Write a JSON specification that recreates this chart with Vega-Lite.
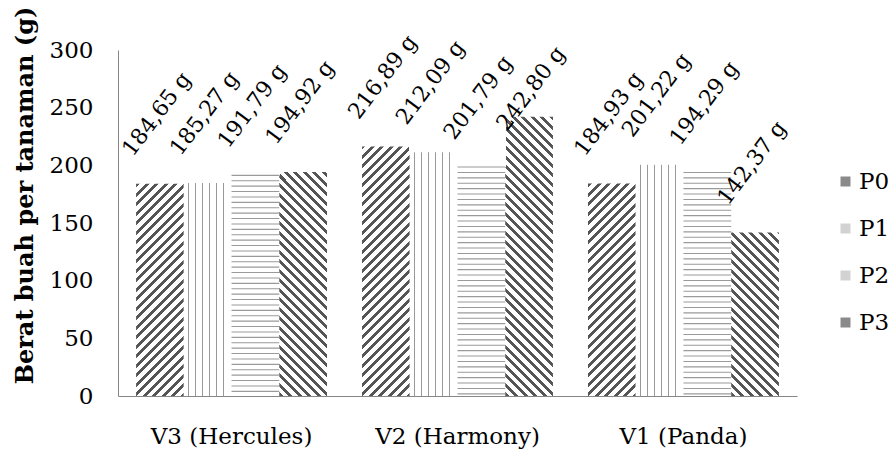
{
  "$schema": "https://vega.github.io/schema/vega-lite/v6.json",
  "width": 679,
  "height": 346,
  "autosize": {"type": "none"},
  "padding": {"left": 118, "top": 50, "right": 96, "bottom": 59},
  "background": "white",
  "data": {"values": [
    {"varietas": "V3  (Hercules)", "perlakuan": "P0", "berat": 184.65, "label": "184,65 g"},
    {"varietas": "V3  (Hercules)", "perlakuan": "P1", "berat": 185.27, "label": "185,27 g"},
    {"varietas": "V3  (Hercules)", "perlakuan": "P2", "berat": 191.79, "label": "191,79 g"},
    {"varietas": "V3  (Hercules)", "perlakuan": "P3", "berat": 194.92, "label": "194,92 g"},
    {"varietas": "V2 (Harmony)", "perlakuan": "P0", "berat": 216.89, "label": "216,89 g"},
    {"varietas": "V2 (Harmony)", "perlakuan": "P1", "berat": 212.09, "label": "212,09 g"},
    {"varietas": "V2 (Harmony)", "perlakuan": "P2", "berat": 199.0, "label": "201,79 g"},
    {"varietas": "V2 (Harmony)", "perlakuan": "P3", "berat": 242.8, "label": "242,80 g"},
    {"varietas": "V1 (Panda)", "perlakuan": "P0", "berat": 184.93, "label": "184,93 g"},
    {"varietas": "V1 (Panda)", "perlakuan": "P1", "berat": 201.22, "label": "201,22 g"},
    {"varietas": "V1 (Panda)", "perlakuan": "P2", "berat": 194.29, "label": "194,29 g"},
    {"varietas": "V1 (Panda)", "perlakuan": "P3", "berat": 142.37, "label": "142,37 g"}
  ]},
  "encoding": {
    "x": {
      "field": "varietas", "type": "nominal",
      "sort": ["V3  (Hercules)", "V2 (Harmony)", "V1 (Panda)"],
      "scale": {"paddingInner": 0.155, "paddingOuter": 0.08},
      "axis": {"title": null, "labelAngle": 0, "ticks": false, "domainColor": "#868686", "domainWidth": 1, "labelFontSize": 23, "labelPadding": 29, "labelColor": "#000", "labelFont": "DejaVu Serif", "labelLimit": 0}
    },
    "xOffset": {"field": "perlakuan", "type": "nominal", "sort": ["P0", "P1", "P2", "P3"], "scale": {"paddingInner": 0, "paddingOuter": 0}}
  },
  "layer": [
    {
      "mark": {"type": "bar", "strokeWidth": 0},
      "encoding": {
        "y": {
          "datum": 250, "type": "quantitative",
          "scale": {"domain": [0, 300], "nice": false},
          "axis": {
            "values": [0, 50, 100, 150, 200, 250, 300], "grid": false, "ticks": false,
            "domainColor": "#868686", "domainWidth": 1,
            "labelFontSize": 23, "labelColor": "#000", "labelPadding": 25, "labelFont": "DejaVu Serif",
            "title": "Berat buah per tanaman (g)", "titleFont": "DejaVu Serif", "titleFontSize": 24, "titleFontWeight": "bold", "titleColor": "#000",
            "titleX": -93, "titleY": 145, "titleAngle": 270, "titleAlign": "center", "titleBaseline": "middle", "titleLimit": 0
          }
        },
        "fill": {
          "condition": [
            {"test": "datum.perlakuan === 'P0'", "value": {"gradient": "linear", "x1": 0, "y1": 0, "x2": 0.2125, "y2": 1.283, "stops": [
              {"offset":0,"color":"#555"},{"offset":0.011,"color":"#555"},{"offset":0.011,"color":"#fff"},{"offset":0.025,"color":"#fff"},
              {"offset":0.025,"color":"#555"},{"offset":0.036,"color":"#555"},{"offset":0.036,"color":"#fff"},{"offset":0.05,"color":"#fff"},
              {"offset":0.05,"color":"#555"},{"offset":0.061,"color":"#555"},{"offset":0.061,"color":"#fff"},{"offset":0.075,"color":"#fff"},
              {"offset":0.075,"color":"#555"},{"offset":0.086,"color":"#555"},{"offset":0.086,"color":"#fff"},{"offset":0.1,"color":"#fff"},
              {"offset":0.1,"color":"#555"},{"offset":0.111,"color":"#555"},{"offset":0.111,"color":"#fff"},{"offset":0.125,"color":"#fff"},
              {"offset":0.125,"color":"#555"},{"offset":0.136,"color":"#555"},{"offset":0.136,"color":"#fff"},{"offset":0.15,"color":"#fff"},
              {"offset":0.15,"color":"#555"},{"offset":0.161,"color":"#555"},{"offset":0.161,"color":"#fff"},{"offset":0.175,"color":"#fff"},
              {"offset":0.175,"color":"#555"},{"offset":0.186,"color":"#555"},{"offset":0.186,"color":"#fff"},{"offset":0.2,"color":"#fff"},
              {"offset":0.2,"color":"#555"},{"offset":0.211,"color":"#555"},{"offset":0.211,"color":"#fff"},{"offset":0.225,"color":"#fff"},
              {"offset":0.225,"color":"#555"},{"offset":0.236,"color":"#555"},{"offset":0.236,"color":"#fff"},{"offset":0.25,"color":"#fff"},
              {"offset":0.25,"color":"#555"},{"offset":0.261,"color":"#555"},{"offset":0.261,"color":"#fff"},{"offset":0.275,"color":"#fff"},
              {"offset":0.275,"color":"#555"},{"offset":0.286,"color":"#555"},{"offset":0.286,"color":"#fff"},{"offset":0.3,"color":"#fff"},
              {"offset":0.3,"color":"#555"},{"offset":0.311,"color":"#555"},{"offset":0.311,"color":"#fff"},{"offset":0.325,"color":"#fff"},
              {"offset":0.325,"color":"#555"},{"offset":0.336,"color":"#555"},{"offset":0.336,"color":"#fff"},{"offset":0.35,"color":"#fff"},
              {"offset":0.35,"color":"#555"},{"offset":0.361,"color":"#555"},{"offset":0.361,"color":"#fff"},{"offset":0.375,"color":"#fff"},
              {"offset":0.375,"color":"#555"},{"offset":0.386,"color":"#555"},{"offset":0.386,"color":"#fff"},{"offset":0.4,"color":"#fff"},
              {"offset":0.4,"color":"#555"},{"offset":0.411,"color":"#555"},{"offset":0.411,"color":"#fff"},{"offset":0.425,"color":"#fff"},
              {"offset":0.425,"color":"#555"},{"offset":0.436,"color":"#555"},{"offset":0.436,"color":"#fff"},{"offset":0.45,"color":"#fff"},
              {"offset":0.45,"color":"#555"},{"offset":0.461,"color":"#555"},{"offset":0.461,"color":"#fff"},{"offset":0.475,"color":"#fff"},
              {"offset":0.475,"color":"#555"},{"offset":0.486,"color":"#555"},{"offset":0.486,"color":"#fff"},{"offset":0.5,"color":"#fff"},
              {"offset":0.5,"color":"#555"},{"offset":0.511,"color":"#555"},{"offset":0.511,"color":"#fff"},{"offset":0.525,"color":"#fff"},
              {"offset":0.525,"color":"#555"},{"offset":0.536,"color":"#555"},{"offset":0.536,"color":"#fff"},{"offset":0.55,"color":"#fff"},
              {"offset":0.55,"color":"#555"},{"offset":0.561,"color":"#555"},{"offset":0.561,"color":"#fff"},{"offset":0.575,"color":"#fff"},
              {"offset":0.575,"color":"#555"},{"offset":0.586,"color":"#555"},{"offset":0.586,"color":"#fff"},{"offset":0.6,"color":"#fff"},
              {"offset":0.6,"color":"#555"},{"offset":0.611,"color":"#555"},{"offset":0.611,"color":"#fff"},{"offset":0.625,"color":"#fff"},
              {"offset":0.625,"color":"#555"},{"offset":0.636,"color":"#555"},{"offset":0.636,"color":"#fff"},{"offset":0.65,"color":"#fff"},
              {"offset":0.65,"color":"#555"},{"offset":0.661,"color":"#555"},{"offset":0.661,"color":"#fff"},{"offset":0.675,"color":"#fff"},
              {"offset":0.675,"color":"#555"},{"offset":0.686,"color":"#555"},{"offset":0.686,"color":"#fff"},{"offset":0.7,"color":"#fff"},
              {"offset":0.7,"color":"#555"},{"offset":0.711,"color":"#555"},{"offset":0.711,"color":"#fff"},{"offset":0.725,"color":"#fff"},
              {"offset":0.725,"color":"#555"},{"offset":0.736,"color":"#555"},{"offset":0.736,"color":"#fff"},{"offset":0.75,"color":"#fff"},
              {"offset":0.75,"color":"#555"},{"offset":0.761,"color":"#555"},{"offset":0.761,"color":"#fff"},{"offset":0.775,"color":"#fff"},
              {"offset":0.775,"color":"#555"},{"offset":0.786,"color":"#555"},{"offset":0.786,"color":"#fff"},{"offset":0.8,"color":"#fff"},
              {"offset":0.8,"color":"#555"},{"offset":0.811,"color":"#555"},{"offset":0.811,"color":"#fff"},{"offset":0.825,"color":"#fff"},
              {"offset":0.825,"color":"#555"},{"offset":0.836,"color":"#555"},{"offset":0.836,"color":"#fff"},{"offset":0.85,"color":"#fff"},
              {"offset":0.85,"color":"#555"},{"offset":0.861,"color":"#555"},{"offset":0.861,"color":"#fff"},{"offset":0.875,"color":"#fff"},
              {"offset":0.875,"color":"#555"},{"offset":0.886,"color":"#555"},{"offset":0.886,"color":"#fff"},{"offset":0.9,"color":"#fff"}
            ]}},
            {"test": "datum.perlakuan === 'P3'", "value": {"gradient": "linear", "x1": 0, "y1": 1, "x2": 0.2125, "y2": -0.283, "stops": [
              {"offset":0,"color":"#555"},{"offset":0.011,"color":"#555"},{"offset":0.011,"color":"#fff"},{"offset":0.025,"color":"#fff"},
              {"offset":0.025,"color":"#555"},{"offset":0.036,"color":"#555"},{"offset":0.036,"color":"#fff"},{"offset":0.05,"color":"#fff"},
              {"offset":0.05,"color":"#555"},{"offset":0.061,"color":"#555"},{"offset":0.061,"color":"#fff"},{"offset":0.075,"color":"#fff"},
              {"offset":0.075,"color":"#555"},{"offset":0.086,"color":"#555"},{"offset":0.086,"color":"#fff"},{"offset":0.1,"color":"#fff"},
              {"offset":0.1,"color":"#555"},{"offset":0.111,"color":"#555"},{"offset":0.111,"color":"#fff"},{"offset":0.125,"color":"#fff"},
              {"offset":0.125,"color":"#555"},{"offset":0.136,"color":"#555"},{"offset":0.136,"color":"#fff"},{"offset":0.15,"color":"#fff"},
              {"offset":0.15,"color":"#555"},{"offset":0.161,"color":"#555"},{"offset":0.161,"color":"#fff"},{"offset":0.175,"color":"#fff"},
              {"offset":0.175,"color":"#555"},{"offset":0.186,"color":"#555"},{"offset":0.186,"color":"#fff"},{"offset":0.2,"color":"#fff"},
              {"offset":0.2,"color":"#555"},{"offset":0.211,"color":"#555"},{"offset":0.211,"color":"#fff"},{"offset":0.225,"color":"#fff"},
              {"offset":0.225,"color":"#555"},{"offset":0.236,"color":"#555"},{"offset":0.236,"color":"#fff"},{"offset":0.25,"color":"#fff"},
              {"offset":0.25,"color":"#555"},{"offset":0.261,"color":"#555"},{"offset":0.261,"color":"#fff"},{"offset":0.275,"color":"#fff"},
              {"offset":0.275,"color":"#555"},{"offset":0.286,"color":"#555"},{"offset":0.286,"color":"#fff"},{"offset":0.3,"color":"#fff"},
              {"offset":0.3,"color":"#555"},{"offset":0.311,"color":"#555"},{"offset":0.311,"color":"#fff"},{"offset":0.325,"color":"#fff"},
              {"offset":0.325,"color":"#555"},{"offset":0.336,"color":"#555"},{"offset":0.336,"color":"#fff"},{"offset":0.35,"color":"#fff"},
              {"offset":0.35,"color":"#555"},{"offset":0.361,"color":"#555"},{"offset":0.361,"color":"#fff"},{"offset":0.375,"color":"#fff"},
              {"offset":0.375,"color":"#555"},{"offset":0.386,"color":"#555"},{"offset":0.386,"color":"#fff"},{"offset":0.4,"color":"#fff"},
              {"offset":0.4,"color":"#555"},{"offset":0.411,"color":"#555"},{"offset":0.411,"color":"#fff"},{"offset":0.425,"color":"#fff"},
              {"offset":0.425,"color":"#555"},{"offset":0.436,"color":"#555"},{"offset":0.436,"color":"#fff"},{"offset":0.45,"color":"#fff"},
              {"offset":0.45,"color":"#555"},{"offset":0.461,"color":"#555"},{"offset":0.461,"color":"#fff"},{"offset":0.475,"color":"#fff"},
              {"offset":0.475,"color":"#555"},{"offset":0.486,"color":"#555"},{"offset":0.486,"color":"#fff"},{"offset":0.5,"color":"#fff"},
              {"offset":0.5,"color":"#555"},{"offset":0.511,"color":"#555"},{"offset":0.511,"color":"#fff"},{"offset":0.525,"color":"#fff"},
              {"offset":0.525,"color":"#555"},{"offset":0.536,"color":"#555"},{"offset":0.536,"color":"#fff"},{"offset":0.55,"color":"#fff"},
              {"offset":0.55,"color":"#555"},{"offset":0.561,"color":"#555"},{"offset":0.561,"color":"#fff"},{"offset":0.575,"color":"#fff"},
              {"offset":0.575,"color":"#555"},{"offset":0.586,"color":"#555"},{"offset":0.586,"color":"#fff"},{"offset":0.6,"color":"#fff"},
              {"offset":0.6,"color":"#555"},{"offset":0.611,"color":"#555"},{"offset":0.611,"color":"#fff"},{"offset":0.625,"color":"#fff"},
              {"offset":0.625,"color":"#555"},{"offset":0.636,"color":"#555"},{"offset":0.636,"color":"#fff"},{"offset":0.65,"color":"#fff"},
              {"offset":0.65,"color":"#555"},{"offset":0.661,"color":"#555"},{"offset":0.661,"color":"#fff"},{"offset":0.675,"color":"#fff"},
              {"offset":0.675,"color":"#555"},{"offset":0.686,"color":"#555"},{"offset":0.686,"color":"#fff"},{"offset":0.7,"color":"#fff"},
              {"offset":0.7,"color":"#555"},{"offset":0.711,"color":"#555"},{"offset":0.711,"color":"#fff"},{"offset":0.725,"color":"#fff"},
              {"offset":0.725,"color":"#555"},{"offset":0.736,"color":"#555"},{"offset":0.736,"color":"#fff"},{"offset":0.75,"color":"#fff"},
              {"offset":0.75,"color":"#555"},{"offset":0.761,"color":"#555"},{"offset":0.761,"color":"#fff"},{"offset":0.775,"color":"#fff"},
              {"offset":0.775,"color":"#555"},{"offset":0.786,"color":"#555"},{"offset":0.786,"color":"#fff"},{"offset":0.8,"color":"#fff"},
              {"offset":0.8,"color":"#555"},{"offset":0.811,"color":"#555"},{"offset":0.811,"color":"#fff"},{"offset":0.825,"color":"#fff"},
              {"offset":0.825,"color":"#555"},{"offset":0.836,"color":"#555"},{"offset":0.836,"color":"#fff"},{"offset":0.85,"color":"#fff"},
              {"offset":0.85,"color":"#555"},{"offset":0.861,"color":"#555"},{"offset":0.861,"color":"#fff"},{"offset":0.875,"color":"#fff"},
              {"offset":0.875,"color":"#555"},{"offset":0.886,"color":"#555"},{"offset":0.886,"color":"#fff"},{"offset":0.9,"color":"#fff"}
            ]}},
            {"test": "datum.perlakuan === 'P1'", "value": {"gradient": "linear", "x1": 0, "y1": 0, "x2": 1.0471, "y2": 0, "stops": [
              {"offset":0,"color":"#fff"},{"offset":0.08,"color":"#fff"},{"offset":0.08,"color":"#999"},{"offset":0.104,"color":"#999"},{"offset":0.104,"color":"#fff"},
              {"offset":0.22,"color":"#fff"},{"offset":0.22,"color":"#999"},{"offset":0.244,"color":"#999"},{"offset":0.244,"color":"#fff"},
              {"offset":0.36,"color":"#fff"},{"offset":0.36,"color":"#999"},{"offset":0.384,"color":"#999"},{"offset":0.384,"color":"#fff"},
              {"offset":0.5,"color":"#fff"},{"offset":0.5,"color":"#999"},{"offset":0.524,"color":"#999"},{"offset":0.524,"color":"#fff"},
              {"offset":0.64,"color":"#fff"},{"offset":0.64,"color":"#999"},{"offset":0.664,"color":"#999"},{"offset":0.664,"color":"#fff"},
              {"offset":0.78,"color":"#fff"},{"offset":0.78,"color":"#999"},{"offset":0.804,"color":"#999"},{"offset":0.804,"color":"#fff"},
              {"offset":1,"color":"#fff"}
            ]}}
          ],
          "value": "#ffffff"
        }
      }
    },
    {
      "mark": {"type": "bar", "fill": "#ffffff", "stroke": "#ffffff", "strokeWidth": 1.5},
      "encoding": {
        "y": {"field": "berat", "type": "quantitative"},
        "y2": {"datum": 250.6}
      }
    },
    {
      "transform": [{"filter": "datum.perlakuan === 'P2'"}],
      "mark": {"type": "rule", "stroke": "#9a9a9a", "strokeWidth": 47.75, "strokeDash": [1.1, 4.3], "strokeCap": "butt"},
      "encoding": {
        "y": {"field": "berat", "type": "quantitative"},
        "y2": {"datum": 0}
      }
    },
    {
      "mark": {"type": "bar", "opacity": 0},
      "encoding": {
        "y": {"field": "berat", "type": "quantitative"},
        "fill": {
          "field": "perlakuan", "type": "nominal",
          "scale": {"domain": ["P0", "P1", "P2", "P3"], "range": ["#8a8a8a", "#d2d2d2", "#d2d2d2", "#8a8a8a"]},
          "legend": {
            "title": null, "orient": "none", "legendX": 716, "legendY": 120,
            "symbolType": "square", "symbolSize": 100, "symbolOpacity": 1, "symbolStrokeWidth": 0,
            "labelFontSize": 23, "labelFont": "DejaVu Serif", "labelColor": "#000",
            "rowPadding": 23, "labelOffset": 2, "padding": 0
          }
        }
      }
    },
    {
      "transform": [{"filter": "datum.label !== '242,80 g'"}],
      "mark": {"type": "text", "angle": 307, "align": "left", "baseline": "alphabetic", "dx": 4, "dy": -37, "fontSize": 22, "font": "DejaVu Serif", "fill": "#000"},
      "encoding": {
        "y": {"field": "berat", "type": "quantitative"},
        "text": {"field": "label", "type": "nominal"}
      }
    },
    {
      "transform": [{"filter": "datum.label === '242,80 g'"}],
      "mark": {"type": "text", "angle": 307, "align": "left", "baseline": "alphabetic", "dx": -26, "dy": -8, "fontSize": 22, "font": "DejaVu Serif", "fill": "#000"},
      "encoding": {
        "y": {"field": "berat", "type": "quantitative"},
        "text": {"field": "label", "type": "nominal"}
      }
    }
  ],
  "config": {
    "font": "DejaVu Serif",
    "view": {"stroke": null}
  }
}
